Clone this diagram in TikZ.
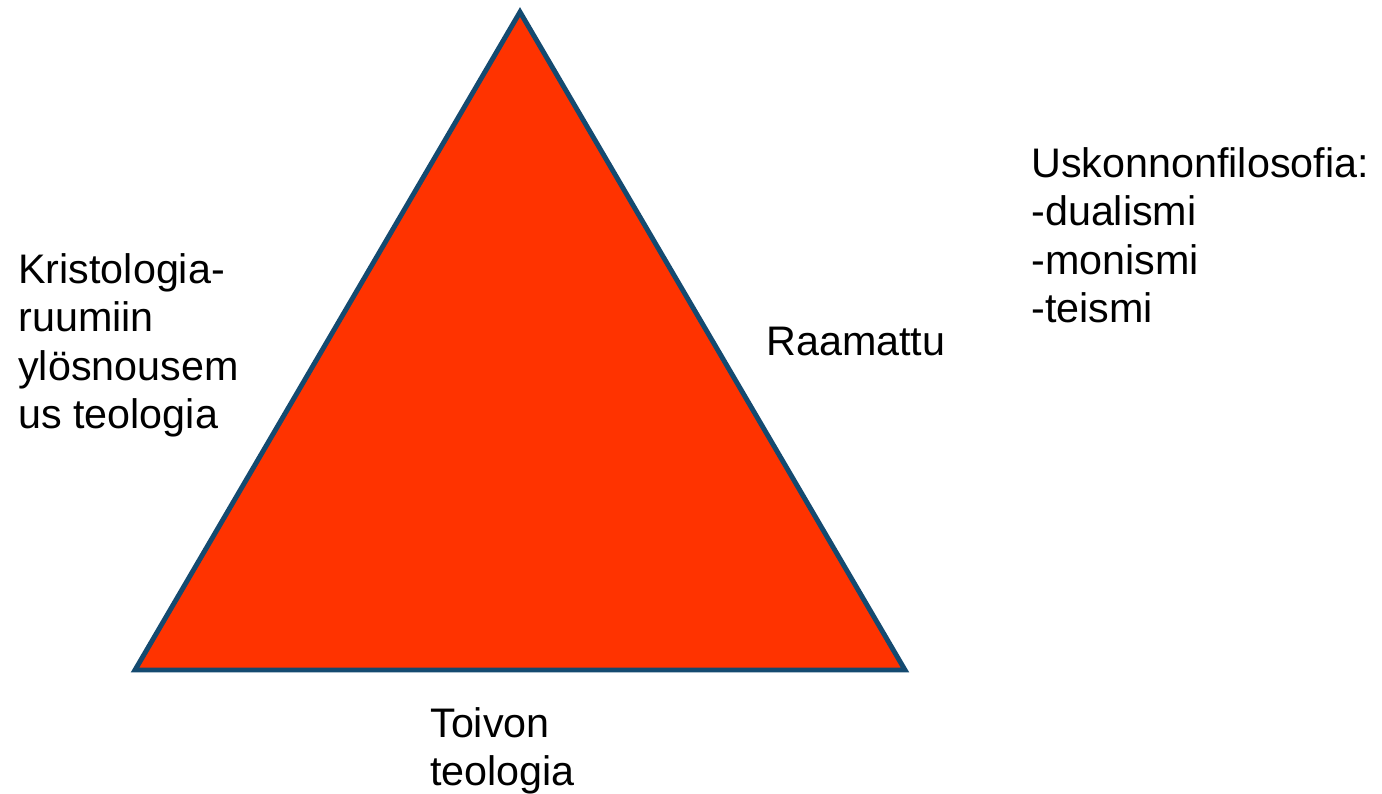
\documentclass[tikz,border=0pt]{standalone}
\usepackage{fontspec}
\setmainfont{Liberation Sans}
\usepackage{xcolor}
\usetikzlibrary{positioning}

\definecolor{trifill}{HTML}{FF3300}
\definecolor{triline}{HTML}{144A70}

\tikzset{
    lbl/.style={anchor=north west, inner sep=0pt, align=left,
        font=\fontsize{23.5pt}{27.6pt}\selectfont}
}

\begin{document}
\begin{tikzpicture}[x=0.02cm, y=-0.02cm]
    \useasboundingbox (0,0) rectangle (1382,794);

    % Triangle
    \coordinate (apex) at (520,12);
    \coordinate (bl) at (135,670);
    \coordinate (br) at (905,670);
    \draw [fill=trifill, draw=triline, line width=2.8pt] (apex) -- (bl) -- (br) -- cycle;

    % Labels
    \node [lbl] (krist) at (18,253) {Kristologia-\\ruumiin\\ylösnousem\\us teologia};
    \node [lbl] (raam) at (766,327) {Raamattu};
    \node [lbl] (usk) at (1031,147) {Uskonnonfilosofia:\\-dualismi\\-monismi\\-teismi};
    \node [lbl] (toivo) at (430,707) {Toivon\\teologia};
\end{tikzpicture}
\end{document}
